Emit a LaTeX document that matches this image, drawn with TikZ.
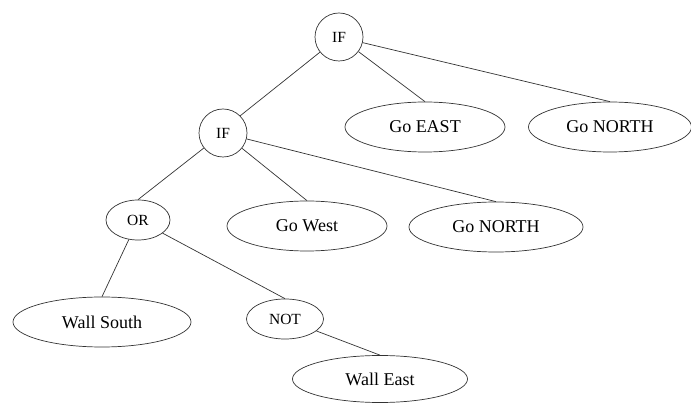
\documentclass[tikz,border=0pt]{standalone}
\usepackage{fontspec}
\setmainfont{Liberation Serif}
\usetikzlibrary{shapes.geometric}

\begin{document}
\begin{tikzpicture}[x=1pt,y=-1pt,line width=0.7pt,
  every node/.style={draw=black!80,line width=0.7pt},
  opnode/.style={circle,minimum size=48pt,inner sep=0pt,font=\fontsize{15.5}{17}\selectfont},
  smallop/.style={ellipse,minimum width=64pt,minimum height=40pt,inner sep=0pt,font=\fontsize{15.5}{17}\selectfont},
  leaf/.style={ellipse,minimum width=160pt,minimum height=50pt,inner sep=0pt,font=\fontsize{18}{20}\selectfont}]
  \useasboundingbox (0,0) rectangle (691,403);

  \node[opnode] (if1) at (339,37) {IF};
  \node[leaf] (goeast) at (425,127) {Go EAST};
  \node[leaf,minimum width=163pt] (gonorth1) at (610,127) {Go NORTH};

  \node[opnode] (if2) at (223,133) {IF};
  \node[smallop] (or) at (138,220) {OR};
  \node[leaf] (gowest) at (307,226) {Go West};
  \node[leaf,minimum width=174pt] (gonorth2) at (496,227) {Go NORTH};

  \node[leaf,minimum width=178pt] (wallsouth) at (102,322) {Wall South};
  \node[smallop,minimum width=77pt] (not) at (285,319) {NOT};
  \node[leaf,minimum width=175pt,minimum height=47pt] (walleast) at (380,379) {Wall East};

  \draw[black!80](if1)--(if2.north east);
  \draw[black!80](if1)--(goeast.north);
  \draw[black!80](if1)--(gonorth1.north);
  \draw[black!80](if2)--(or.north);
  \draw[black!80](if2)--(gowest.north);
  \draw[black!80](if2)--(gonorth2.north);
  \draw[black!80](or)--(wallsouth.north);
  \draw[black!80](or)--(not.north);
  \draw[black!80](not)--(walleast.north);
\end{tikzpicture}
\end{document}
